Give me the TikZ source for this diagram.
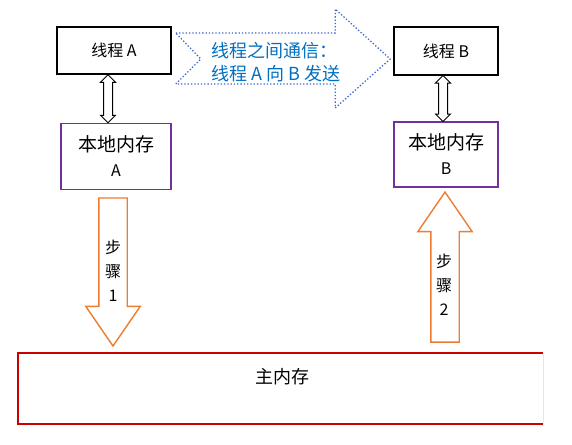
\documentclass[tikz,border=0pt]{standalone}
\usepackage{fontspec}
\setmainfont{Noto Sans CJK SC}
\usepackage{xcolor}
\usetikzlibrary{positioning, shapes.arrows, calc}
\definecolor{msgblue}{RGB}{0,112,192}
\definecolor{dotblue}{RGB}{60,100,210}
\definecolor{lmpurple}{RGB}{112,48,160}
\definecolor{steporange}{RGB}{237,125,49}
\definecolor{memred}{RGB}{200,0,0}

\begin{document}
\begin{tikzpicture}[
  x=1pt, y=-1pt,
  thread/.style={rectangle, draw=black, line width=1.6pt, fill=white, inner sep=0pt, minimum width=114pt, minimum height=47pt, font=\fontsize{16}{19}\selectfont},
  local/.style={rectangle, draw=lmpurple, line width=1.6pt, fill=white, inner sep=0pt, minimum width=110pt, minimum height=66pt, align=center, font=\fontsize{19}{24}\selectfont},
  mainmem/.style={rectangle, draw=none, inner sep=0pt, minimum width=525pt, minimum height=71pt},
  link/.style={double arrow, draw=black, line width=1pt, fill=white, inner xsep=0pt, inner ysep=4pt, rotate=90, double arrow head extend=3pt, double arrow head indent=0pt},
  stepup/.style={single arrow, draw=steporange, line width=1.4pt, fill=white, inner xsep=0pt, inner ysep=13.5pt, single arrow head extend=13pt, single arrow tip angle=69, anchor=tail},
  msg/.style={draw=dotblue, line width=1.3pt, dotted, fill=white},
  steptxt/.style={align=center, font=\fontsize{16}{24}\selectfont},
]
\useasboundingbox (0,0) rectangle (572,444);

\node[thread] (ta) at (114,50.5) {线程 A};
\node[thread, minimum width=104pt, minimum height=48pt] (tb) at (446,51) {线程 B};
\node[local] (la) at (116,156.5) {本地内存\\[1pt]{\fontsize{16}{19}\selectfont A}};
\node[local, minimum width=104pt, minimum height=65pt] (lb) at (446,154.5) {本地内存\\[1pt]{\fontsize{16}{19}\selectfont B}};
\node[mainmem, label={[font=\fontsize{18}{21}\selectfont, anchor=north, yshift=-12pt, xshift=1.5pt]north:主内存}] (mem) at (280.5,388.5) {};
\draw[memred, line width=1.8pt] (mem.north east) -- (mem.north west) -- (mem.south west) -- (mem.south east);
\draw[memred!12, line width=0.8pt] (mem.north east) -- (mem.south east);

\coordinate (mtail) at ($(ta.east)+(4,8.5)$);
\coordinate (mtip) at ($(tb.west)+(-3,8)$);
\draw[msg] ($(mtail)+(0,-26)$) -- ($(mtip)+(-55,-26)$) -- ($(mtip)+(-55,-50)$) -- (mtip)
  -- ($(mtip)+(-55,49)$) -- ($(mtip)+(-55,25)$) -- ($(mtail)+(0,25)$) -- ($(mtail)+(25,0)$) -- cycle;
\node[font=\fontsize{18}{23}\selectfont, text=msgblue, align=left] (msgtxt) at (276,62) {线程之间通信：\\线程 A 向 B 发送};

\path ($(ta.south)+(-6,0)$) -- node[link, minimum height=48pt] (linka) {} ($(la.north)+(-8,0)$);
\path ($(tb.south)+(-3,0)$) -- node[link, minimum height=46pt] (linkb) {} ($(lb.north)+(-3,0)$);

\node[stepup, rotate=-90, minimum height=148pt] (step1) at ($(la.south)+(-3,7)$) {};
\node[stepup, rotate=90, minimum height=150pt] (step2) at ($(lb.south |- mem.north)+(-1,-10)$) {};
\node[steptxt] (s1txt) at (113,271) {步\\骤\\1};
\node[steptxt] (s2txt) at (444,285) {步\\骤\\2};
\end{tikzpicture}
\end{document}
